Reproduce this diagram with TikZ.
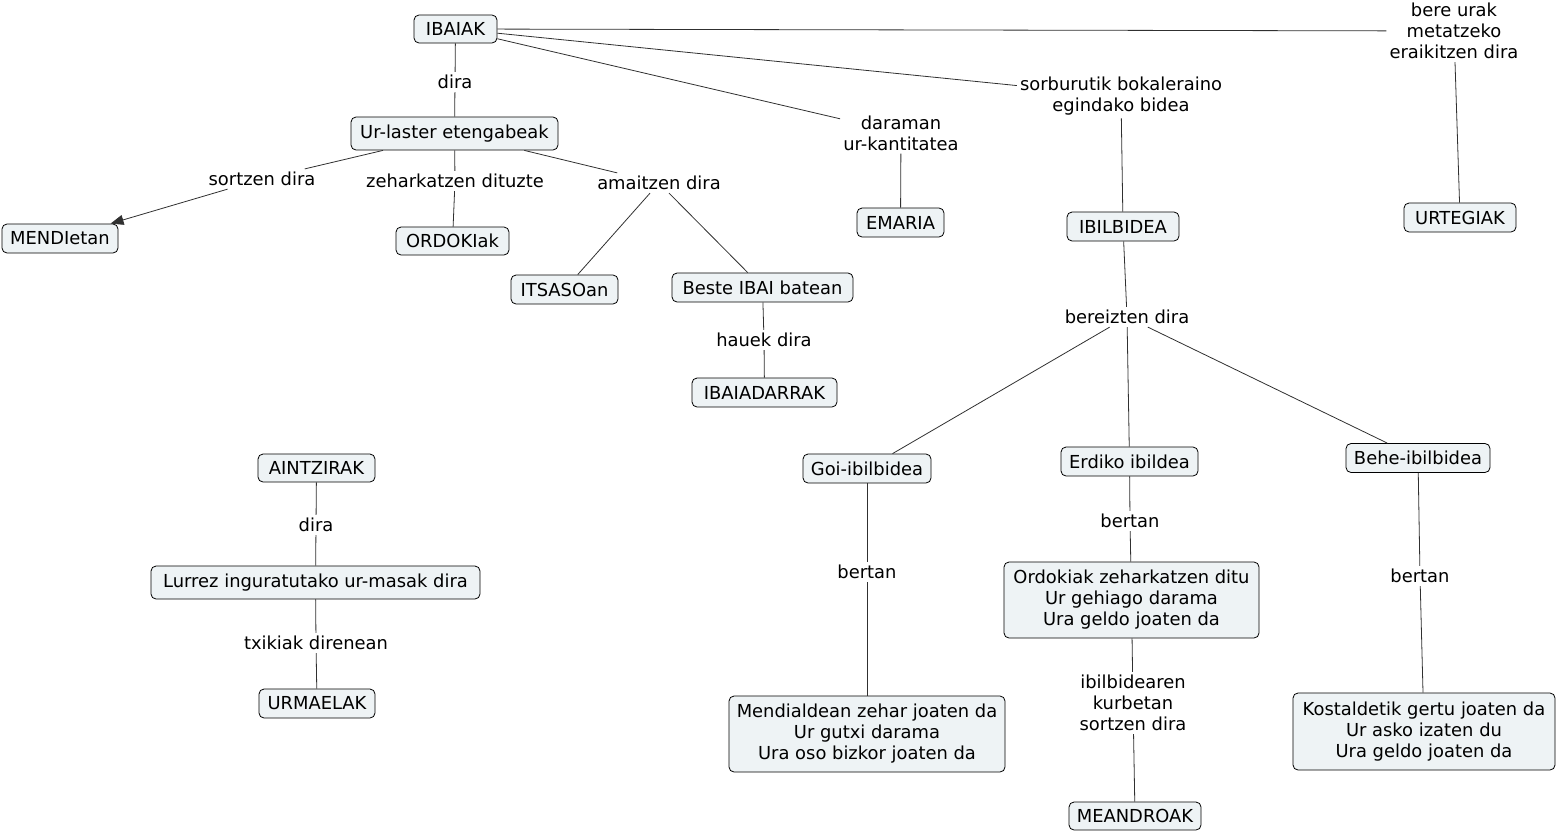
\documentclass[tikz,border=0pt]{standalone}
\usepackage{fontspec}
\setmainfont{DejaVu Sans}
\usetikzlibrary{arrows.meta}
\definecolor{boxfill}{HTML}{EEF3F5}
\definecolor{linec}{HTML}{303030}
\tikzset{
  cbox/.style={draw=black, fill=boxfill, rounded corners=5pt, line width=0.8pt,
    font=\fontsize{17.9}{21}\selectfont, align=center, inner xsep=4pt, inner ysep=2pt,
    minimum height=29pt},
  clab/.style={font=\fontsize{17.9}{21}\selectfont, align=center, inner xsep=3pt, inner ysep=3pt},
  conn/.style={draw=linec, line width=0.8pt},
  arr/.style={conn, -{Triangle[length=13pt,width=10pt]}}
}
\begin{document}
\begin{tikzpicture}[x=1pt,y=-1pt]
\useasboundingbox (0,0) rectangle (1557,833);
% boxes
\node[cbox, minimum width=83pt, minimum height=28pt] (ibaiak) at (455.5,29) {IBAIAK};
\node[cbox, minimum width=207pt, minimum height=33pt] (urlaster) at (454.5,133.5) {Ur-laster etengabeak};
\node[cbox, minimum width=116pt] (mendi) at (60,238.5) {MENDIetan};
\node[cbox, minimum width=113pt, minimum height=28pt] (ordoki) at (452.5,241) {ORDOKIak};
\node[cbox, minimum width=107pt] (itsaso) at (564.5,289.5) {ITSASOan};
\node[cbox, minimum width=181pt] (beste) at (762.5,287.5) {Beste IBAI batean};
\node[cbox, minimum width=145pt] (adarrak) at (764.5,392.5) {IBAIADARRAK};
\node[cbox, minimum width=87pt] (emaria) at (900.5,222.5) {EMARIA};
\node[cbox, minimum width=112pt] (ibilbidea) at (1123,226.5) {IBILBIDEA};
\node[cbox, minimum width=112pt] (urtegiak) at (1460,217.5) {URTEGIAK};
\node[cbox, minimum width=128pt] (goi) at (867,468.5) {Goi-ibilbidea};
\node[cbox, minimum width=137pt] (erdiko) at (1129.5,461.5) {Erdiko ibildea};
\node[cbox, minimum width=144pt] (behe) at (1418,458) {Behe-ibilbidea};
\node[cbox, minimum width=255pt, minimum height=76pt] (ordokiak) at (1131.5,600) {Ordokiak zeharkatzen ditu\\Ur gehiago darama\\Ura geldo joaten da};
\node[cbox, minimum width=276pt, minimum height=76pt] (mendialdean) at (867,734) {Mendialdean zehar joaten da\\Ur gutxi darama\\Ura oso bizkor joaten da};
\node[cbox, minimum width=132pt, minimum height=28pt] (meandroak) at (1135,816) {MEANDROAK};
\node[cbox, minimum width=262pt, minimum height=77pt] (kostaldetik) at (1424,731.5) {Kostaldetik gertu joaten da\\Ur asko izaten du\\Ura geldo joaten da};
\node[cbox, minimum width=117pt, minimum height=28pt] (aintzirak) at (316.5,468) {AINTZIRAK};
\node[cbox, minimum width=329pt, minimum height=33pt] (lurrez) at (315.5,582.5) {Lurrez inguratutako ur-masak dira};
\node[cbox, minimum width=116pt] (urmaelak) at (317,703.5) {URMAELAK};
% linking phrases
\node[clab] (ldira) at (455,82) {dira};
\node[clab] (lsortzen) at (262,179) {sortzen dira};
\node[clab] (lzehar) at (455,181) {zeharkatzen dituzte};
\node[clab] (lamaitzen) at (659,183) {amaitzen dira};
\node[clab] (ldaraman) at (901,133) {daraman\\ur-kantitatea};
\node[clab] (lsorburu) at (1121,96) {sorburutik bokaleraino\\egindako bidea};
\node[clab] (lbere) at (1454,31) {bere urak\\metatzeko\\eraikitzen dira};
\node[clab] (lhauek) at (764,340) {hauek dira};
\node[clab] (lbereizten) at (1127,317) {bereizten dira};
\node[clab] (lbertana) at (867,572) {bertan};
\node[clab] (lbertanb) at (1130,521) {bertan};
\node[clab] (lbertanc) at (1420,576) {bertan};
\node[clab] (libil) at (1133,703) {ibilbidearen\\kurbetan\\sortzen dira};
\node[clab] (ldirab) at (316,525) {dira};
\node[clab] (ltxiki) at (316,643) {txikiak direnean};
% connectors
\draw[conn] (ibaiak) -- (ldira);
\draw[conn] (ldira) -- (urlaster);
\draw[conn] (ibaiak) -- (lbere);
\draw[conn] (lbere) -- (urtegiak);
\draw[conn] (ibaiak) -- (lsorburu);
\draw[conn] (lsorburu) -- (ibilbidea);
\draw[conn] (ibaiak) -- (ldaraman);
\draw[conn] (ldaraman) -- (emaria);
\draw[conn] (urlaster) -- (lsortzen);
\draw[arr] (lsortzen) -- (mendi);
\draw[conn] (urlaster) -- (lzehar);
\draw[conn] (lzehar) -- (ordoki);
\draw[conn] (urlaster) -- (lamaitzen);
\draw[conn] (lamaitzen) -- (itsaso);
\draw[conn] (lamaitzen) -- (beste);
\draw[conn] (beste) -- (lhauek);
\draw[conn] (lhauek) -- (adarrak);
\draw[conn] (ibilbidea) -- (lbereizten);
\draw[conn] (lbereizten) -- (goi);
\draw[conn] (lbereizten) -- (erdiko);
\draw[conn] (lbereizten) -- (behe);
\draw[conn] (goi) -- (lbertana);
\draw[conn] (lbertana) -- (mendialdean);
\draw[conn] (erdiko) -- (lbertanb);
\draw[conn] (lbertanb) -- (ordokiak);
\draw[conn] (ordokiak) -- (libil);
\draw[conn] (libil) -- (meandroak);
\draw[conn] (behe) -- (lbertanc);
\draw[conn] (lbertanc) -- (kostaldetik);
\draw[conn] (aintzirak) -- (ldirab);
\draw[conn] (ldirab) -- (lurrez);
\draw[conn] (lurrez) -- (ltxiki);
\draw[conn] (ltxiki) -- (urmaelak);
\end{tikzpicture}
\end{document}
